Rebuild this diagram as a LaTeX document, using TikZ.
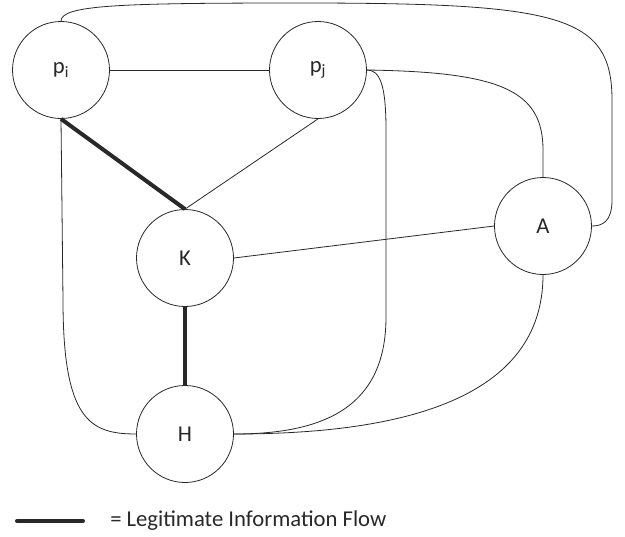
\documentclass[tikz,border=0pt]{standalone}
\usepackage{fontspec}
\setmainfont{Carlito}
\usetikzlibrary{positioning}
\definecolor{inkgray}{RGB}{40, 40, 40}

\begin{document}
\begin{tikzpicture}[
        x=0.75pt, y=-0.75pt,
        party/.style={circle, draw=inkgray, line width=0.6pt, minimum size=72.75pt, inner sep=0pt, text=inkgray, font=\fontsize{17}{20}\selectfont},
        channel/.style={draw=inkgray, line width=0.6pt},
        flow/.style={draw=inkgray, line width=3pt}
    ]
        \useasboundingbox (0, 0) rectangle (625, 536);

        \node[party] (pi) at (61, 70) {p\textsubscript{i}};
        \node[party] (pj) at (318, 70) {p\textsubscript{j}};
        \node[party] (k) at (185, 258) {K};
        \node[party] (a) at (543, 226) {A};
        \node[party] (h) at (185, 434) {H};

        \draw[channel] (pi) -- (pj);
        \draw[channel] (pj.south) -- (k.north);
        \draw[channel] (k.east) -- (a.west);
        \draw[flow] (pi.south) -- (k.north);
        \draw[flow] (k.south) -- (h.north);

        % long bends round the outside
        \draw[channel] (pi.north) .. controls (61, 5) and (120, 3) .. (300, 3)
            .. controls (560, 3) and (612, 15) .. (612, 100) -- (612, 200)
            .. controls (612, 222) and (602, 226) .. (a.east);
        \draw[channel] (pj.east) .. controls (500, 72) and (543, 90) .. (543, 150) -- (a.north);
        \draw[channel] (pj.east) .. controls (380, 70) and (386, 85) .. (386, 130) -- (386, 317)
            .. controls (386, 410) and (320, 434) .. (h.east);
        \draw[channel] (a.south) .. controls (543, 400) and (400, 434) .. (h.east);
        \draw[channel] (pi.south) -- (63, 300) .. controls (63, 420) and (90, 434) .. (h.west);

        % legend
        \coordinate (legl) at (17, 521);
        \coordinate (legr) at (83, 521);
        \draw[flow, line cap=round] (legl) -- (legr);
        \node[right, text=inkgray, font=\fontsize{17}{20}\selectfont, inner sep=0pt] (legtext) at (110, 521) {= Legitimate Information Flow};
    \end{tikzpicture}
\end{document}
